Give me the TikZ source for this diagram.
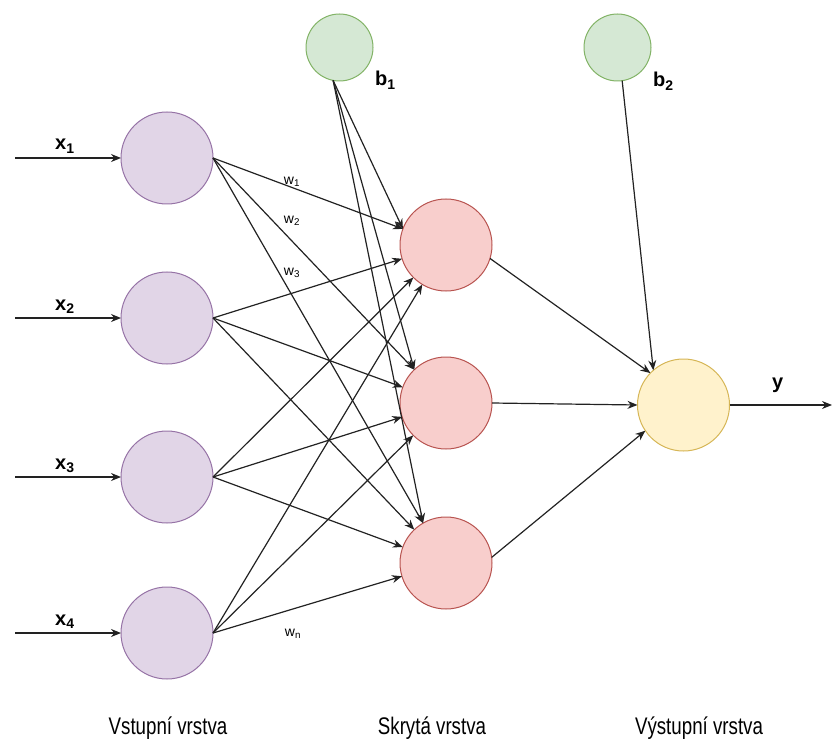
\documentclass[tikz,border=0pt]{standalone}
\usepackage{fontspec}
\setmainfont{Liberation Sans}
\newfontfamily\captionfont[FakeStretch=0.78]{Liberation Sans}
\usetikzlibrary{arrows.meta,calc}

\definecolor{inFill}{HTML}{E1D5E7}
\definecolor{inLine}{HTML}{9673A6}
\definecolor{hidFill}{HTML}{F8CECC}
\definecolor{hidLine}{HTML}{B85450}
\definecolor{biasFill}{HTML}{D5E8D4}
\definecolor{biasLine}{HTML}{82B366}
\definecolor{outFill}{HTML}{FFF2CC}
\definecolor{outLine}{HTML}{D6B656}
\definecolor{edgeC}{HTML}{222222}

\begin{document}
\begin{tikzpicture}[x=1pt,y=-1pt,
  neuron/.style={circle,line width=1pt,minimum size=92pt,inner sep=0pt,outer sep=0pt},
  innode/.style={neuron,fill=inFill,draw=inLine},
  hidnode/.style={neuron,fill=hidFill,draw=hidLine},
  outnode/.style={neuron,fill=outFill,draw=outLine},
  biasnode/.style={neuron,minimum size=67pt,fill=biasFill,draw=biasLine},
  conn/.style={draw=edgeC,line width=1.2pt,-{Stealth[length=10pt,width=8pt]}},
  varlab/.style={font=\bfseries\fontsize{20}{20}\selectfont,inner sep=0pt,anchor=base west},
  wlab/.style={font=\fontsize{14}{14}\selectfont,inner sep=0pt},
  layerlab/.style={font=\captionfont\fontsize{24}{24}\selectfont,inner sep=0pt,anchor=base}
]
\useasboundingbox (0,0) rectangle (832,743);

% neurons
\foreach \i/\y in {1/158,2/318,3/477,4/633}
  \node[innode] (in\i) at (167,\y) {};
\foreach \j/\y in {1/245,2/403,3/563}
  \node[hidnode] (h\j) at (446,\y) {};
\node[outnode] (out) at (683.5,405) {};
\node[biasnode] (b1) at (339.5,47.5) {};
\node[biasnode] (b2) at (617.5,47.5) {};

% input signals
\foreach \i/\y in {1/158,2/318,3/477,4/633}{
  \coordinate (s\i) at (15,\y);
  \draw[conn] (s\i) -- (in\i);
}
\node[varlab] (x1) at (55,150) {x\textsubscript{1}};
\node[varlab] (x2) at (55,310) {x\textsubscript{2}};
\node[varlab] (x3) at (55,469) {x\textsubscript{3}};
\node[varlab] (x4) at (55,625) {x\textsubscript{4}};

% input -> hidden weights
\foreach \i in {1,2,3,4}
  \foreach \j in {1,2,3}
    \draw[conn] (in\i.east) -- (h\j);

% bias of the hidden layer
\foreach \j in {1,2,3}{
  \coordinate (e\j) at ($(h\j.center)!46pt!(in1.east)$);
  \draw[conn] (b1.-101) -- (e\j);
}
\node[varlab] (b1lab) at (375,86) {b\textsubscript{1}};

% hidden -> output
\draw[conn] (h1.-17) -- (out.136);
\draw[conn] (h2.east) -- (out.west);
\draw[conn] (h3.7) -- (out.214);
\draw[conn] (b2.-82) -- (out.131);
\node[varlab] (b2lab) at (653,87) {b\textsubscript{2}};

% output signal
\coordinate (yend) at (832,405);
\draw[conn] (out.east) -- (yend);
\node[varlab] (ylab) at (772,388) {y};

% weight labels
\node[wlab] (w1) at (292,182) {w\textsubscript{1}};
\node[wlab] (w2) at (292,221) {w\textsubscript{2}};
\node[wlab] (w3) at (292,273) {w\textsubscript{3}};
\node[wlab] (wn) at (293,634) {w\textsubscript{n}};

% layer captions
\node[layerlab] (L1) at (168,734) {Vstupní vrstva};
\node[layerlab] (L2) at (432,734) {Skrytá vrstva};
\node[layerlab] (L3) at (699,734) {Výstupní vrstva};
\end{tikzpicture}
\end{document}
